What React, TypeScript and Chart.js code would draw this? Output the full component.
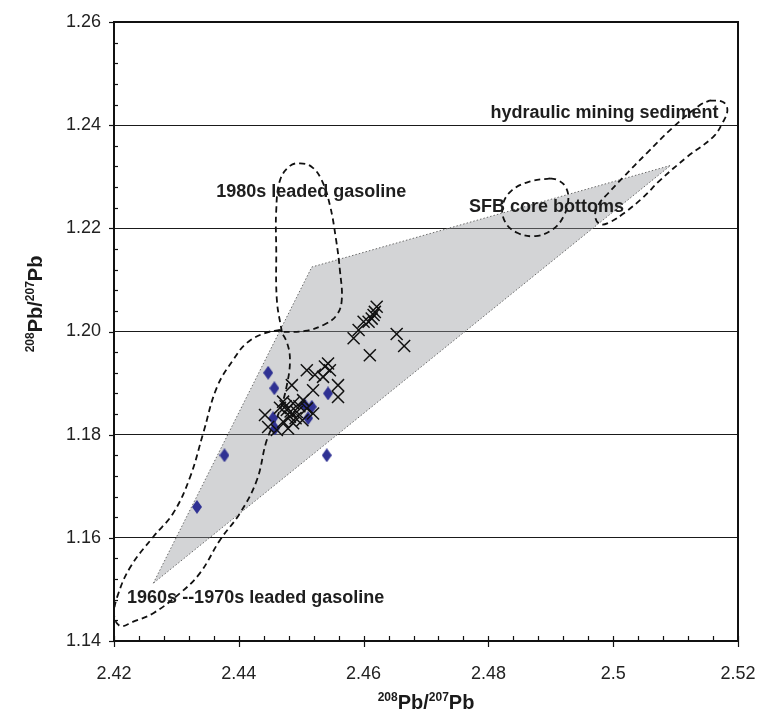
import React, { useEffect, useRef } from "react";
import { Chart, registerables } from "chart.js";

Chart.register(...registerables);

// ---- axis ticks ----
const xMajorTicks = [2.42, 2.44, 2.46, 2.48, 2.5, 2.52];
const yMajorTicks = [1.14, 1.16, 1.18, 1.2, 1.22, 1.24, 1.26];
const xMinorStep = 0.004;
const yMinorStep = 0.004;

// ---- blue diamonds ----
const diamondX = [2.4333, 2.4377, 2.4447, 2.4457, 2.4455, 2.4458, 2.4541, 2.4505, 2.4517, 2.4511, 2.4543];
const diamondY = [1.166, 1.176, 1.192, 1.189, 1.1832, 1.1812, 1.176, 1.1858, 1.1854, 1.1832, 1.188];

// ---- black crosses ----
const crossX = [
  2.4621, 2.4618, 2.4616, 2.4613, 2.4608, 2.46, 2.4592, 2.4584, 2.461, 2.4653, 2.4665,
  2.4543, 2.4538, 2.4509, 2.4522, 2.4546, 2.4535, 2.4559, 2.4485, 2.4519, 2.4559,
  2.4471, 2.4487, 2.4503, 2.4477, 2.4493, 2.4509, 2.4519, 2.4442, 2.4482, 2.4471,
  2.4487, 2.4447, 2.4479, 2.4461, 2.4475, 2.4497, 2.4483, 2.4466, 2.4491, 2.4502,
];
const crossY = [
  1.2048, 1.2038, 1.2032, 1.2025, 1.2019, 1.2019, 1.2003, 1.1987, 1.1954, 1.1995, 1.1972,
  1.1938, 1.1932, 1.1925, 1.1916, 1.1925, 1.1912, 1.1896, 1.1896, 1.1886, 1.1873,
  1.1864, 1.1861, 1.1867, 1.1848, 1.1844, 1.1851, 1.1841, 1.1838, 1.1835, 1.1825,
  1.1822, 1.1815, 1.1812, 1.1809, 1.1855, 1.1855, 1.1845, 1.1852, 1.1832, 1.1828,
];

// ---- grey field (polygon) ----
const fieldX = [2.4263, 2.4517, 2.5092, 2.4263];
const fieldY = [1.1512, 1.2125, 1.2322, 1.1512];

// ---- dashed outlines ----
const gas1980X = [2.4469, 2.4461, 2.446, 2.446, 2.4466, 2.4482, 2.4498, 2.4517, 2.4533, 2.4546, 2.4556, 2.4562, 2.4565, 2.4557, 2.4538, 2.4506, 2.4469];
const gas1980Y = [1.1999, 1.2061, 1.2158, 1.2235, 1.2293, 1.2321, 1.2326, 1.2319, 1.2293, 1.2245, 1.2177, 1.2119, 1.2061, 1.2032, 1.2014, 1.2001, 1.1999];

const gas1960X = [2.4466, 2.4442, 2.4413, 2.4391, 2.4365, 2.4343, 2.4322, 2.4295, 2.4263, 2.4226, 2.4205, 2.42, 2.421, 2.423, 2.4263, 2.4306, 2.4338, 2.437, 2.4402, 2.4429, 2.4445, 2.4466, 2.4477, 2.4482, 2.4477, 2.4466];
const gas1960Y = [1.2003, 1.1997, 1.1978, 1.1945, 1.1892, 1.1803, 1.1718, 1.1648, 1.1602, 1.1543, 1.1485, 1.145, 1.1429, 1.1437, 1.1454, 1.1493, 1.1532, 1.1596, 1.1648, 1.1712, 1.179, 1.1848, 1.1896, 1.1945, 1.1979, 1.2003];

const sfbX = [2.4899, 2.4867, 2.4838, 2.4823, 2.4827, 2.4847, 2.4875, 2.4902, 2.492, 2.4928, 2.4924, 2.4912, 2.4899];
const sfbY = [1.2297, 1.2291, 1.2274, 1.2245, 1.2212, 1.2191, 1.2185, 1.2197, 1.2222, 1.2255, 1.228, 1.2293, 1.2297];

const hydX = [2.5155, 2.5176, 2.5183, 2.5175, 2.516, 2.5118, 2.5075, 2.5048, 2.5019, 2.4995, 2.4979, 2.4971, 2.4977, 2.4992, 2.5016, 2.5054, 2.5096, 2.5139, 2.5155];
const hydY = [1.2448, 1.2445, 1.2429, 1.2404, 1.2377, 1.2338, 1.2293, 1.226, 1.2231, 1.2212, 1.2208, 1.2224, 1.2247, 1.2268, 1.2299, 1.2346, 1.2396, 1.2439, 1.2448];

// ---- annotation labels ----
const labelTexts = ["hydraulic mining sediment", "SFB core bottoms", "1980s leaded gasoline", "1960s --1970s leaded gasoline"];
const labelX = [2.4986, 2.4893, 2.4516, 2.4427];
const labelY = [1.2423, 1.2242, 1.2271, 1.1483];

const FONT = "'Liberation Sans', Arial, Helvetica, sans-serif";

const pts = (xs: number[], ys: number[]) => xs.map((x, i) => ({ x, y: ys[i] }));

function drawSupText(ctx: CanvasRenderingContext2D, cx: number, baseY: number) {
  const parts = [
    { t: "208", sup: true },
    { t: "Pb/", sup: false },
    { t: "207", sup: true },
    { t: "Pb", sup: false },
  ];
  const big = `bold 20px ${FONT}`;
  const small = `bold 12px ${FONT}`;
  let total = 0;
  const widths = parts.map((p) => {
    ctx.font = p.sup ? small : big;
    const w = ctx.measureText(p.t).width;
    total += w;
    return w;
  });
  let x = cx - total / 2;
  ctx.textAlign = "left";
  ctx.textBaseline = "alphabetic";
  parts.forEach((p, i) => {
    ctx.font = p.sup ? small : big;
    ctx.fillText(p.t, x, p.sup ? baseY - 8 : baseY);
    x += widths[i];
  });
}

const decorPlugin = {
  id: "decor",
  afterDraw(chart: any) {
    const { ctx, chartArea } = chart;
    const { left, right, top, bottom } = chartArea;
    const xs = chart.scales.x;
    const ys = chart.scales.y;
    ctx.save();
    ctx.strokeStyle = "#111";
    // frame
    ctx.lineWidth = 2;
    ctx.strokeRect(left, top, right - left, bottom - top);
    // x ticks
    ctx.lineWidth = 1.2;
    const xmin = xMajorTicks[0];
    const xmax = xMajorTicks[xMajorTicks.length - 1];
    const nx = Math.round((xmax - xmin) / xMinorStep);
    for (let i = 0; i <= nx; i++) {
      const v = xmin + i * xMinorStep;
      const isMajor = xMajorTicks.some((m) => Math.abs(m - v) < 1e-6);
      const px = Math.round(xs.getPixelForValue(v)) + 0.5;
      ctx.beginPath();
      ctx.moveTo(px, bottom - 5);
      ctx.lineTo(px, isMajor ? bottom + 6 : bottom);
      ctx.stroke();
    }
    const ymin = yMajorTicks[0];
    const ymax = yMajorTicks[yMajorTicks.length - 1];
    const ny = Math.round((ymax - ymin) / yMinorStep);
    for (let i = 0; i <= ny; i++) {
      const v = ymin + i * yMinorStep;
      const isMajor = yMajorTicks.some((m) => Math.abs(m - v) < 1e-6);
      const py = Math.round(ys.getPixelForValue(v)) + 0.5;
      ctx.beginPath();
      if (isMajor) {
        ctx.moveTo(left - 5, py);
        ctx.lineTo(left, py);
      } else {
        ctx.moveTo(left, py);
        ctx.lineTo(left + 4, py);
      }
      ctx.stroke();
    }
    // axis titles
    ctx.fillStyle = "#1a1a1a";
    drawSupText(ctx, (left + right) / 2, 709);
    ctx.save();
    ctx.translate(42, 304);
    ctx.rotate(-Math.PI / 2);
    drawSupText(ctx, 0, 0);
    ctx.restore();
    // annotations
    ctx.font = `bold 18px ${FONT}`;
    ctx.textAlign = "center";
    ctx.textBaseline = "middle";
    ctx.fillStyle = "#1e1e1e";
    labelTexts.forEach((t, i) => {
      ctx.fillText(t, xs.getPixelForValue(labelX[i]), ys.getPixelForValue(labelY[i]));
    });
    ctx.restore();
  },
};

export default function App() {
  const ref = useRef<HTMLCanvasElement | null>(null);

  useEffect(() => {
    const canvas = ref.current;
    if (!canvas) return;

    const diamond = document.createElement("canvas");
    diamond.width = 10;
    diamond.height = 14;
    const dctx = diamond.getContext("2d")!;
    dctx.fillStyle = "#2f3193";
    dctx.beginPath();
    dctx.moveTo(5, 0);
    dctx.lineTo(10, 7);
    dctx.lineTo(5, 14);
    dctx.lineTo(0, 7);
    dctx.closePath();
    dctx.fill();

    const outline = (xs: number[], ys: number[], order: number) => ({
      type: "line" as const,
      data: pts(xs, ys),
      borderColor: "#111",
      borderWidth: 1.8,
      borderDash: [6, 4],
      tension: 0.4,
      pointRadius: 0,
      fill: false,
      order,
    });

    const chart = new Chart(canvas, {
      type: "scatter",
      data: {
        datasets: [
          {
            type: "line",
            data: pts(fieldX, fieldY),
            borderColor: "#6a6a6a",
            borderWidth: 1,
            borderDash: [1.5, 2],
            backgroundColor: "rgba(150,152,158,0.42)",
            fill: "shape",
            tension: 0,
            pointRadius: 0,
            order: 5,
          } as any,
          outline(gas1980X, gas1980Y, 4),
          outline(gas1960X, gas1960Y, 4),
          outline(sfbX, sfbY, 4),
          outline(hydX, hydY, 4),
          {
            data: pts(diamondX, diamondY),
            pointStyle: diamond,
            pointRadius: 6,
            order: 2,
          } as any,
          {
            data: pts(crossX, crossY),
            pointStyle: "crossRot",
            pointRadius: 8.5,
            borderColor: "#111",
            borderWidth: 1.5,
            order: 1,
          },
        ],
      },
      options: {
        responsive: false,
        animation: false,
        devicePixelRatio: 1,
        layout: { padding: { left: 0, right: 22, top: 22, bottom: 0 } },
        plugins: { legend: { display: false }, tooltip: { enabled: false } },
        scales: {
          x: {
            type: "linear",
            min: 2.42,
            max: 2.52,
            afterFit: (s: any) => {
              s.height = 77;
              s.paddingLeft = 0;
              s.paddingRight = 0;
            },
            afterBuildTicks: (s: any) => {
              s.ticks = xMajorTicks.map((v) => ({ value: v }));
            },
            ticks: {
              callback: (v: any) => String(Math.round(Number(v) * 100) / 100),
              font: { family: FONT, size: 18 },
              color: "#222",
              padding: 14,
              maxRotation: 0,
              autoSkip: false,
            },
            grid: { display: false },
            border: { display: false },
          },
          y: {
            type: "linear",
            min: 1.14,
            max: 1.26,
            afterFit: (s: any) => {
              s.width = 114;
              s.paddingTop = 0;
              s.paddingBottom = 0;
            },
            afterBuildTicks: (s: any) => {
              s.ticks = yMajorTicks.map((v) => ({ value: v }));
            },
            ticks: {
              callback: (v: any) => Number(v).toFixed(2),
              font: { family: FONT, size: 18 },
              color: "#222",
              padding: 13,
              autoSkip: false,
            },
            grid: { color: "#1a1a1a", lineWidth: 1, drawTicks: false },
            border: { display: false },
          },
        },
      },
      plugins: [decorPlugin],
    });

    return () => chart.destroy();
  }, []);

  return (
    <div style={{ position: "absolute", left: 0, top: 0, width: 760, height: 718, background: "#fff" }}>
      <canvas ref={ref} width={760} height={718} style={{ display: "block" }} />
    </div>
  );
}
